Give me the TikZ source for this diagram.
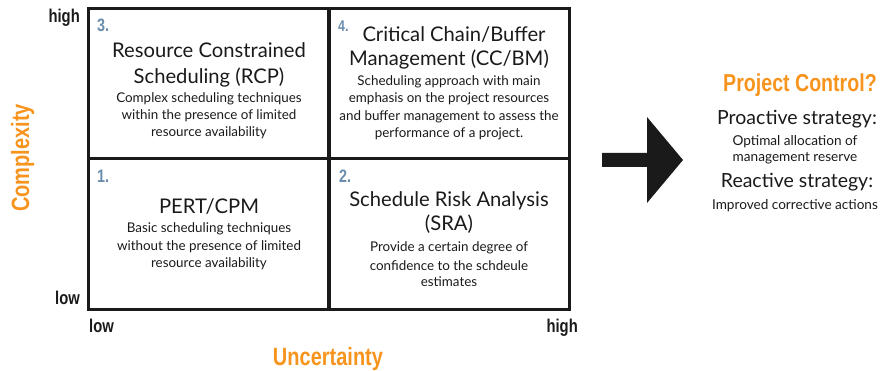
\documentclass[tikz,border=0pt]{standalone}
\usepackage{fontspec}
\setmainfont{Lato}
\newfontfamily\cond[FakeStretch=0.8]{Liberation Sans Bold}
\definecolor{pcorange}{HTML}{F7941E}
\definecolor{pcblue}{HTML}{6A8DAE}
\definecolor{ink}{HTML}{1A1A1A}
\begin{document}
\begin{tikzpicture}[x=1pt,y=-1pt,
  cell/.style={draw=ink,line width=3pt,minimum width=241pt,minimum height=150pt,inner sep=0pt},
  ttl/.style={anchor=base,inner sep=0pt,text=ink,font=\fontsize{20.2}{22}\selectfont},
  sml/.style={anchor=base,inner sep=0pt,text=ink,font=\fontsize{13.4}{15}\selectfont},
  num/.style={anchor=base west,inner sep=0pt,text=pcblue,font=\cond\fontsize{18}{19}\selectfont},
  axl/.style={inner sep=0pt,text=ink,font=\cond\fontsize{18.5}{20}\selectfont},
  axt/.style={inner sep=0pt,text=pcorange,font=\cond\fontsize{25}{28}\selectfont},
  rt/.style={anchor=base,inner sep=0pt,text=ink,font=\fontsize{19.5}{22}\selectfont},
  rs/.style={anchor=base,inner sep=0pt,text=ink,font=\fontsize{13.6}{15}\selectfont}]
\useasboundingbox (0,0) rectangle (883,371);
% cells
\node[cell] (c3) at (208.5,84) {};
\node[cell] (c4) at (449,84) {};
\node[cell] (c1) at (208.5,234) {};
\node[cell] (c2) at (449,234) {};
% numbers
\node[num] (n3) at (97,32) {3.};
\node[num,font=\cond\fontsize{15.5}{16}\selectfont] (n4) at (338,32) {4.};
\node[num] (n1) at (97,183) {1.};
\node[num] (n2) at (339,183) {2.};
% cell 3
\node[ttl] (c3a) at (209,58) {Resource Constrained};
\node[ttl] (c3b) at (209,84) {Scheduling (RCP)};
\node[sml] (c3c) at (209,103) {Complex scheduling techniques};
\node[sml] (c3d) at (209,120) {within the presence of limited};
\node[sml] (c3e) at (209,137) {resource availability};
% cell 4
\node[ttl] (c4a) at (454,42) {Critical Chain/Buffer};
\node[ttl] (c4b) at (449,66) {Management (CC/BM)};
\node[sml] (c4c) at (449,86) {Scheduling approach with main};
\node[sml] (c4d) at (449,103) {emphasis on the project resources};
\node[sml] (c4e) at (449,121) {and buffer management to assess the};
\node[sml] (c4f) at (449,138) {performance of a project.};
% cell 1
\node[ttl] (c1a) at (209,214) {PERT/CPM};
\node[sml] (c1b) at (209,233) {Basic scheduling techniques};
\node[sml] (c1c) at (209,251) {without the presence of limited};
\node[sml] (c1d) at (209,268) {resource availability};
% cell 2
\node[ttl] (c2a) at (449,207) {Schedule Risk Analysis};
\node[ttl] (c2b) at (449,231) {(SRA)};
\node[sml] (c2c) at (449,252) {Provide a certain degree of};
\node[sml] (c2d) at (449,270) {confidence to the schdeule};
\node[sml] (c2e) at (449,287) {estimates};
% axis labels
\node[axl,anchor=base east] (hi) at (80,23) {high};
\node[axl,anchor=base east] (lo) at (80,305) {low};
\node[axl,anchor=base west] (lox) at (89,332) {low};
\node[axl,anchor=base east] (hix) at (578,332) {high};
\node[axt,anchor=base] (unc) at (328,365) {Uncertainty};
\node[axt,anchor=base,rotate=90] (cpx) at (29,158) {Complexity};
% arrow
\fill[ink] (602,153) -- (647,153) -- (647,117) -- (683,160) -- (647,203) -- (647,167) -- (602,167) -- cycle;
% right text
\node[axt,anchor=base,font=\cond\fontsize{24.5}{27}\selectfont] (pc) at (800,92) {Project Control?};
\node[rt] (pro) at (797,125) {Proactive strategy:};
\node[rs] (pro1) at (795,146) {Optimal allocation of};
\node[rs] (pro2) at (795,162) {management reserve};
\node[rt] (rea) at (797,188) {Reactive strategy:};
\node[rs] (rea1) at (795,210) {Improved corrective actions};
\end{tikzpicture}
\end{document}
